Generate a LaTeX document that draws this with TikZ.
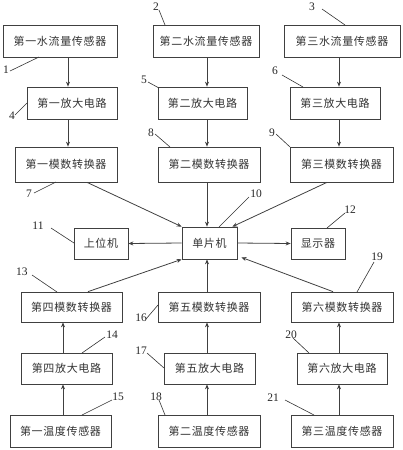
\documentclass[tikz,border=0pt]{standalone}
\usepackage{fontspec}
\setmainfont{Liberation Serif}
\newfontfamily\cjk{Noto Sans CJK SC}[LetterSpace=6]
\usetikzlibrary{arrows.meta}
\tikzset{
  box/.style={draw=black!75, line width=0.7pt, rectangle, inner sep=0pt, font=\cjk\fontsize{11}{13}\selectfont, text=black!80},
  conn/.style={draw=black!75, line width=0.8pt, -{Stealth[length=5pt,width=4pt]}},
  lead/.style={draw=black!80, line width=0.6pt},
  num/.style={font=\fontsize{11.5}{13}\selectfont, inner sep=0pt, text=black!85}
}
\begin{document}
\begin{tikzpicture}[x=1pt,y=-1pt]
\useasboundingbox (0,0) rectangle (402,450);
% top row sensors
\node[box, minimum width=114pt, minimum height=32pt] (f1) at (60,41) {第一水流量传感器};
\node[box, minimum width=106pt, minimum height=32pt] (f2) at (206,41) {第二水流量传感器};
\node[box, minimum width=116pt, minimum height=32pt] (f3) at (342,41) {第三水流量传感器};
% amplifiers
\node[box, minimum width=90pt, minimum height=32pt] (a1) at (72,103) {第一放大电路};
\node[box, minimum width=89pt, minimum height=32pt] (a2) at (202.5,103) {第二放大电路};
\node[box, minimum width=90pt, minimum height=32pt] (a3) at (335,103) {第三放大电路};
% ADCs
\node[box, minimum width=102pt, minimum height=35pt] (c1) at (66,164.5) {第一模数转换器};
\node[box, minimum width=102pt, minimum height=35pt] (c2) at (209,164.5) {第二模数转换器};
\node[box, minimum width=103pt, minimum height=35pt] (c3) at (341.5,164.5) {第三模数转换器};
% middle
\node[box, minimum width=55pt, minimum height=32pt] (mcu) at (209.5,243) {单片机};
\node[box, minimum width=54pt, minimum height=31pt] (pc) at (101,243.5) {上位机};
\node[box, minimum width=54pt, minimum height=31pt] (disp) at (318,243.5) {显示器};
% lower ADCs
\node[box, minimum width=101pt, minimum height=30pt] (c4) at (71.5,307) {第四模数转换器};
\node[box, minimum width=102pt, minimum height=30pt] (c5) at (209,307) {第五模数转换器};
\node[box, minimum width=102pt, minimum height=30pt] (c6) at (342,307) {第六模数转换器};
% lower amplifiers
\node[box, minimum width=91pt, minimum height=31pt] (a4) at (66.5,368.5) {第四放大电路};
\node[box, minimum width=91pt, minimum height=31pt] (a5) at (209.5,368.5) {第五放大电路};
\node[box, minimum width=90pt, minimum height=31pt] (a6) at (342,368.5) {第六放大电路};
% temperature sensors
\node[box, minimum width=101pt, minimum height=32pt] (t1) at (60.5,431) {第一温度传感器};
\node[box, minimum width=102pt, minimum height=32pt] (t2) at (209,431) {第二温度传感器};
\node[box, minimum width=102pt, minimum height=32pt] (t3) at (342,431) {第三温度传感器};

% column x references
\coordinate (xa) at (68,0);
\coordinate (xb) at (207,0);
\coordinate (xc) at (339,0);
\coordinate (xd) at (63,0);

% vertical arrows top
\draw[conn] (f1.south -| xa) -- (a1.north -| xa);
\draw[conn] (a1.south -| xa) -- (c1.north -| xa);
\draw[conn] (f2.south -| xb) -- (a2.north -| xb);
\draw[conn] (a2.south -| xb) -- (c2.north -| xb);
\draw[conn] (f3.south -| xc) -- (a3.north -| xc);
\draw[conn] (a3.south -| xc) -- (c3.north -| xc);
% vertical arrows bottom
\draw[conn] (t1.north -| xd) -- (a4.south -| xd);
\draw[conn] (a4.north -| xd) -- (c4.south -| xd);
\draw[conn] (t2.north -| xb) -- (a5.south -| xb);
\draw[conn] (a5.north -| xb) -- (c5.south -| xb);
\draw[conn] (t3.north -| xc) -- (a6.south -| xc);
\draw[conn] (a6.north -| xc) -- (c6.south -| xc);
% into MCU
\draw[conn] ([xshift=21pt]c1.south) -- (mcu.north west);
\draw[conn] (c2.south -| xb) -- (mcu.north -| xb);
\draw[conn] ([xshift=-14.5pt]c3.south) -- ([xshift=-5pt]mcu.north east);
\draw[conn] ([xshift=16.5pt]c4.north) -- (mcu.south west);
\draw[conn] (c5.north -| xb) -- (mcu.south -| xb);
\draw[conn] ([xshift=-9pt]c6.north) -- ([xshift=4pt,yshift=2pt]mcu.south east);
% out of MCU
\draw[conn] (mcu.west) -- (pc.east);
\draw[conn] (mcu.east) -- (disp.west);

% labels
\node[num] (n1) at (6,70) {1};
\coordinate (e1) at (39,57);
\draw[lead] (10,71) -- (e1);
\node[num] (n2) at (156,7) {2};
\coordinate (e2) at (165,25);
\draw[lead] (159,10) -- (e2);
\node[num] (n3) at (312,7) {3};
\coordinate (e3) at (345,25);
\draw[lead] (322,9) -- (e3);
\node[num] (n4) at (12,116) {4};
\coordinate (e4) at (27,103);
\draw[lead] (15,115) -- (e4);
\node[num] (n5) at (144,80) {5};
\coordinate (e5) at (159,88);
\draw[lead] (148,82) -- (e5);
\node[num] (n6) at (275,71) {6};
\coordinate (e6) at (303,87);
\draw[lead] (282,75) -- (e6);
\node[num] (n7) at (29,194) {7};
\coordinate (e7) at (56,182);
\draw[lead] (34,193) -- (e7);
\node[num] (n8) at (151,133) {8};
\coordinate (e8) at (170,147);
\draw[lead] (155,134) -- (e8);
\node[num] (n9) at (272,133) {9};
\coordinate (e9) at (290,147);
\draw[lead] (276,134) -- (e9);
\node[num] (n10) at (256,194) {10};
\coordinate (e10) at (219,227);
\draw[lead] (249,197) -- (e10);
\node[num] (n11) at (38,226) {11};
\coordinate (e11) at (74,243);
\draw[lead] (51,228) -- (e11);
\node[num] (n12) at (350,210) {12};
\coordinate (e12) at (327,228);
\draw[lead] (345,213) -- (e12);
\node[num] (n13) at (22,272) {13};
\coordinate (e13) at (57,292);
\draw[lead] (32,275) -- (e13);
\node[num] (n14) at (112,335) {14};
\coordinate (e14) at (82,353);
\draw[lead] (105,337) -- (e14);
\node[num] (n15) at (118,397) {15};
\coordinate (e15) at (82,415);
\draw[lead] (112,400) -- (e15);
\node[num] (n16) at (141,318) {16};
\coordinate (e16) at (158,305);
\draw[lead] (146,319) -- (e16);
\node[num] (n17) at (141,351) {17};
\coordinate (e17) at (164,368);
\draw[lead] (147,353) -- (e17);
\node[num] (n18) at (156,397) {18};
\coordinate (e18) at (165,415);
\draw[lead] (159,400) -- (e18);
\node[num] (n19) at (377,257) {19};
\coordinate (e19) at (357,292);
\draw[lead] (374,262) -- (e19);
\node[num] (n20) at (291,335) {20};
\coordinate (e20) at (309,353);
\draw[lead] (293,338) -- (e20);
\node[num] (n21) at (273,398) {21};
\coordinate (e21) at (314,415);
\draw[lead] (285,400) -- (e21);
\end{tikzpicture}
\end{document}
